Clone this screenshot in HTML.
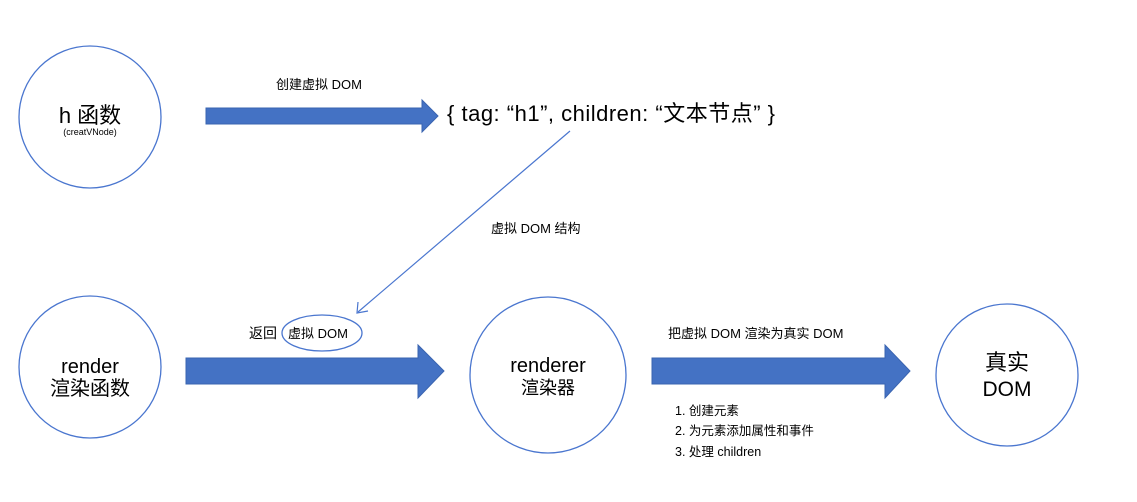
<!DOCTYPE html>
<html><head><meta charset="utf-8"><style>
body{margin:0;background:#fff;}
svg text{font-family:"Liberation Sans","Noto Sans CJK SC",sans-serif;fill:#000;}
</style></head><body>
<svg width="1137" height="497" viewBox="0 0 1137 497" xmlns="http://www.w3.org/2000/svg">
<g fill="#fff" stroke="#4a76cf" stroke-width="1.3">
<circle cx="90" cy="117" r="71"/>
<circle cx="90" cy="367" r="71"/>
<circle cx="548" cy="375" r="78"/>
<circle cx="1007" cy="375" r="71"/>
<ellipse cx="322" cy="333" rx="40" ry="18"/>
</g>
<g fill="#4472c4" stroke="#3a64b0" stroke-width="1">
<polygon points="206,108 422,108 422,100 438,116 422,132 422,124 206,124"/>
<polygon points="186,358 418,358 418,345 444,371 418,398 418,384 186,384"/>
<polygon points="652,358 885,358 885,345 910,371 885,398 885,384 652,384"/>
</g>
<line x1="570" y1="131" x2="358" y2="312" stroke="#4a76cf" stroke-width="1.2"/>
<polyline points="358,302 357,313 368,311" fill="none" stroke="#4a76cf" stroke-width="1.2"/>
<text x="90" y="123" font-size="22" text-anchor="middle">h 函数</text>
<text x="90" y="135" font-size="9" text-anchor="middle">(creatVNode)</text>
<text x="90" y="373" font-size="20" text-anchor="middle">render</text>
<text x="90" y="395" font-size="20" text-anchor="middle">渲染函数</text>
<text x="548" y="372" font-size="20" text-anchor="middle">renderer</text>
<text x="548" y="394" font-size="18" text-anchor="middle">渲染器</text>
<text x="1007" y="370" font-size="22" text-anchor="middle">真实</text>
<text x="1007" y="396" font-size="21" text-anchor="middle">DOM</text>
<text x="276" y="89" font-size="13">创建虚拟 DOM</text>
<text x="447" y="121" font-size="22" textLength="328" lengthAdjust="spacing">{ tag: “h1”, children: “文本节点” }</text>
<text x="491" y="233" font-size="13">虚拟 DOM 结构</text>
<text x="249" y="338" font-size="14">返回</text>
<text x="288" y="338" font-size="13">虚拟 DOM</text>
<text x="668" y="338" font-size="13">把虚拟 DOM 渲染为真实 DOM</text>
<text x="675" y="415" font-size="12.5">1. 创建元素</text>
<text x="675" y="435" font-size="12.5">2. 为元素添加属性和事件</text>
<text x="675" y="456" font-size="12.5">3. 处理 children</text>
</svg>
</body></html>
